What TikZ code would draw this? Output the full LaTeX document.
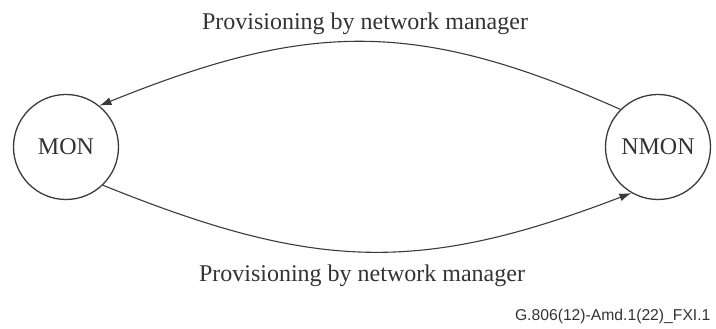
\documentclass[tikz,border=0pt]{standalone}
\usepackage{fontspec}
\setmainfont{Liberation Serif}
\newfontfamily\figfont{Liberation Sans}
\usetikzlibrary{arrows.meta,positioning}
\definecolor{linegray}{HTML}{3A3A3A}
\definecolor{textgray}{HTML}{333333}

\begin{document}
\begin{tikzpicture}[x=1pt,y=1pt,
  state/.style={circle,draw=linegray,line width=1.3pt,minimum size=105pt,inner sep=0pt,
    text=textgray,font=\fontsize{24}{28}\selectfont},
  trans/.style={-{Latex[length=12pt,width=8pt]},line width=1.1pt,linegray,looseness=1.1},
  lbl/.style={anchor=base,text=textgray,font=\fontsize{24}{28}\selectfont}
]
\useasboundingbox (0,0) rectangle (716,329);
\node[state] (mon) at (66,182) {MON};
\node[state] (nmon) at (658,182) {NMON};
\node[lbl] (toplbl) at (365,299) {Provisioning by network manager};
\node[lbl] (botlbl) at (362,47) {Provisioning by network manager};
\node[anchor=base east,text=textgray,font=\figfont\fontsize{15.7}{18}\selectfont] (figid) at (714,8) {G.806(12)-Amd.1(22)\_FXI.1};
\draw[trans] (nmon.135) to[out=156,in=22] (mon.51);
\draw[trans] (mon.-46) to[out=-22,in=201] (nmon.240);
\end{tikzpicture}
\end{document}
